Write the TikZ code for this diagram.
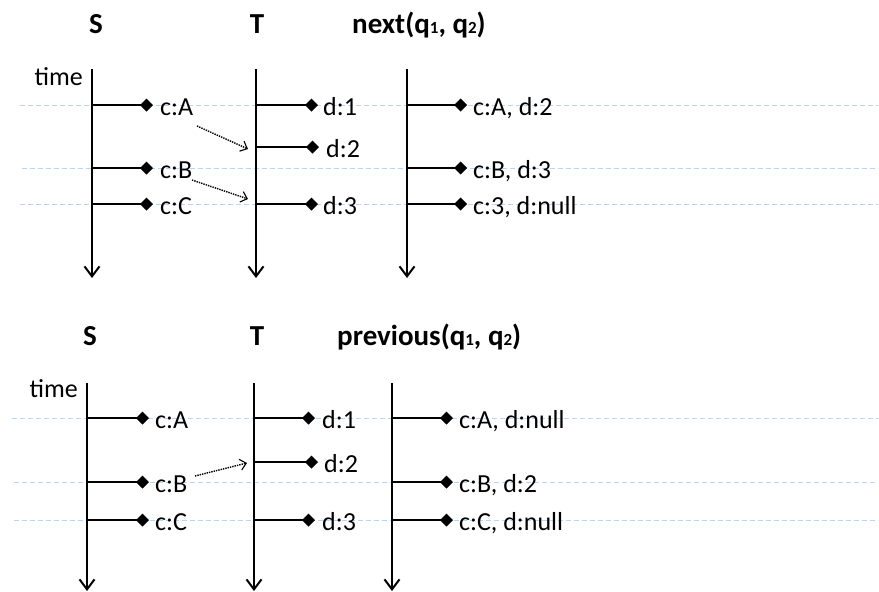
\documentclass[tikz,border=0pt]{standalone}
\usepackage{fontspec}
\setmainfont{Carlito}
\usetikzlibrary{arrows.meta}
\definecolor{guide}{RGB}{190,212,238}
\newcommand\subdigit[1]{{\fontsize{17}{17}\selectfont #1}}
\begin{document}
\begin{tikzpicture}[x=1pt,y=-1pt,
  axis/.style={line width=2.2pt,-{Straight Barb[length=10pt,width=15pt,line width=2pt]}},
  tick/.style={line width=2.2pt,-{Diamond[length=13pt,width=13pt]}},
  val/.style={anchor=base west,inner sep=0pt,font=\fontsize{26}{26}\selectfont},
  ttl/.style={anchor=base,inner sep=0pt,font=\fontsize{29}{29}\selectfont\bfseries},
  guideline/.style={draw=guide,line width=0.8pt,dash pattern=on 5pt off 3pt},
  link/.style={line width=1.4pt,densely dotted,-{Straight Barb[length=6pt,width=11pt,line width=1.1pt]}}]
\useasboundingbox (0,0) rectangle (879,592);

% ---------- next(q1, q2) ----------
\draw[guideline] (20,105) -- (878,105);
\draw[guideline] (22,168) -- (878,168);
\draw[guideline] (20,204) -- (878,204);

\node[ttl] (nS) at (96,33) {S};
\node[ttl] (nT) at (257,33) {T};
\node[ttl,anchor=base west] (nR) at (352,33) {next(q\subdigit{1}, q\subdigit{2})};

\coordinate (S1top) at (92,69);  \coordinate (S1bot) at (92,278);
\coordinate (T1top) at (256,69); \coordinate (T1bot) at (256,278);
\coordinate (R1top) at (407,69); \coordinate (R1bot) at (407,278);
\draw[axis] (S1top) -- (S1bot);
\draw[axis] (T1top) -- (T1bot);
\draw[axis] (R1top) -- (R1bot);
\node[val,anchor=base east] (time1) at (83,85) {time};

\coordinate (S1a) at (153,105); \coordinate (S1b) at (153,168); \coordinate (S1c) at (153,204);
\draw[tick] (S1top |- S1a) -- (S1a);
\draw[tick] (S1top |- S1b) -- (S1b);
\draw[tick] (S1top |- S1c) -- (S1c);
\node[val] (S1aL) at (160,115) {c:A};
\node[val] (S1bL) at (160,178) {c:B};
\node[val] (S1cL) at (160,214) {c:C};

\coordinate (T1a) at (318,105); \coordinate (T1b) at (319,147); \coordinate (T1c) at (318,204);
\draw[tick] (T1top |- T1a) -- (T1a);
\draw[tick] (T1top |- T1b) -- (T1b);
\draw[tick] (T1top |- T1c) -- (T1c);
\node[val] (T1aL) at (323,115) {d:1};
\node[val] (T1bL) at (326,157) {d:2};
\node[val] (T1cL) at (323,214) {d:3};

\coordinate (R1a) at (467,105); \coordinate (R1b) at (467,168); \coordinate (R1c) at (467,204);
\draw[tick] (R1top |- R1a) -- (R1a);
\draw[tick] (R1top |- R1b) -- (R1b);
\draw[tick] (R1top |- R1c) -- (R1c);
\node[val] (R1aL) at (473,115) {c:A, d:2};
\node[val] (R1bL) at (473,178) {c:B, d:3};
\node[val] (R1cL) at (473,214) {c:3, d:null};

\coordinate (L1s) at (197,126); \coordinate (L1e) at (248,149);
\coordinate (L2s) at (192,180); \coordinate (L2e) at (248,199);
\draw[link] (L1s) -- (L1e);
\draw[link] (L2s) -- (L2e);

% ---------- previous(q1, q2) ----------
\draw[guideline] (12,418) -- (878,418);
\draw[guideline] (14,482) -- (878,482);
\draw[guideline] (14,520) -- (878,520);

\node[ttl] (pS) at (90,345) {S};
\node[ttl] (pT) at (257,345) {T};
\node[ttl,anchor=base west] (pR) at (337,345) {previous(q\subdigit{1}, q\subdigit{2})};

\coordinate (S2top) at (87,383);  \coordinate (S2bot) at (87,591);
\coordinate (T2top) at (254,383); \coordinate (T2bot) at (254,591);
\coordinate (R2top) at (392,383); \coordinate (R2bot) at (392,591);
\draw[axis] (S2top) -- (S2bot);
\draw[axis] (T2top) -- (T2bot);
\draw[axis] (R2top) -- (R2bot);
\node[val,anchor=base east] (time2) at (78,397) {time};

\coordinate (S2a) at (149,418); \coordinate (S2b) at (149,482); \coordinate (S2c) at (149,520);
\draw[tick] (S2top |- S2a) -- (S2a);
\draw[tick] (S2top |- S2b) -- (S2b);
\draw[tick] (S2top |- S2c) -- (S2c);
\node[val] (S2aL) at (155,428) {c:A};
\node[val] (S2bL) at (155,492) {c:B};
\node[val] (S2cL) at (155,530) {c:C};

\coordinate (T2a) at (315,418); \coordinate (T2b) at (318,462); \coordinate (T2c) at (315,520);
\draw[tick] (T2top |- T2a) -- (T2a);
\draw[tick] (T2top |- T2b) -- (T2b);
\draw[tick] (T2top |- T2c) -- (T2c);
\node[val] (T2aL) at (322,428) {d:1};
\node[val] (T2bL) at (324,472) {d:2};
\node[val] (T2cL) at (322,530) {d:3};

\coordinate (R2a) at (453,418); \coordinate (R2b) at (453,482); \coordinate (R2c) at (453,520);
\draw[tick] (R2top |- R2a) -- (R2a);
\draw[tick] (R2top |- R2b) -- (R2b);
\draw[tick] (R2top |- R2c) -- (R2c);
\node[val] (R2aL) at (459,428) {c:A, d:null};
\node[val] (R2bL) at (459,492) {c:B, d:2};
\node[val] (R2cL) at (459,530) {c:C, d:null};

\coordinate (L3s) at (195,476); \coordinate (L3e) at (247,463);
\draw[link] (L3s) -- (L3e);
\end{tikzpicture}
\end{document}
